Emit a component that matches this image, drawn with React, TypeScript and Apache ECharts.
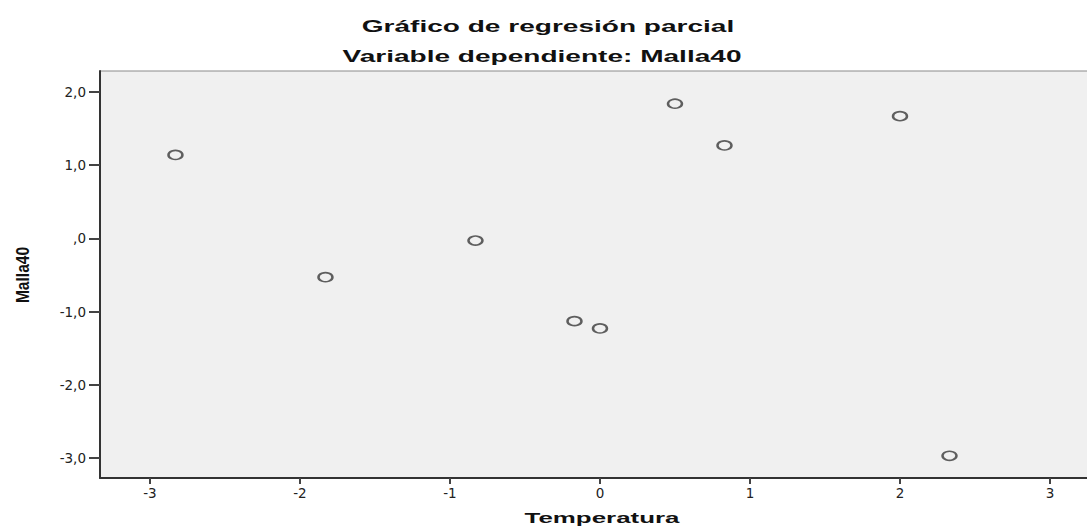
import React, { useEffect, useRef } from "react";
import * as echarts from "echarts";

// Data (partial regression plot)
const temperatura: number[] = [-2.83, -1.83, -0.83, -0.17, 0.0, 0.5, 0.83, 2.0, 2.33];
const malla40: number[] = [1.14, -0.53, -0.03, -1.13, -1.23, 1.84, 1.27, 1.67, -2.97];
const xTicks: number[] = [-3, -2, -1, 0, 1, 2, 3];
const yTicks: number[] = [-3, -2, -1, 0, 1, 2];
const titleLine1 = "Gráfico de regresión parcial";
const titleLine2 = "Variable dependiente: Malla40";
const xName = "Temperatura";
const yName = "Malla40";

const fmtY = (v: number) => {
  if (Math.abs(v) < 1e-9) return ",0";
  return v.toFixed(1).replace(".", ",");
};

export default function App() {
  const ref = useRef<HTMLDivElement>(null);
  useEffect(() => {
    if (!ref.current) return;
    const chart = echarts.init(ref.current, null, { renderer: "svg" });
    const points = temperatura.map((x, i) => [x, malla40[i]]);
    chart.setOption({
      animation: false,
      backgroundColor: "#ffffff",
      grid: {
        left: 100,
        top: 71,
        width: 995,
        bottom: 49,
        containLabel: false,
        outerBoundsMode: "none",
        show: true,
        backgroundColor: "#f0f0f0",
        borderColor: "#8a8a8a",
        borderWidth: 1,
      },
      xAxis: {
        type: "value",
        min: -3.333,
        max: 3.3,
        splitLine: { show: false },
        axisLine: { show: true, onZero: false, lineStyle: { color: "#333", width: 2 } },
        axisTick: {
          show: true,
          customValues: xTicks,
          length: 6,
          lineStyle: { color: "#444", width: 2 },
        },
        axisLabel: {
          customValues: xTicks,
          margin: 8,
          color: "#222",
          fontFamily: "DejaVu Sans",
          fontSize: 13.5,
          formatter: (v: number) => String(v),
        },
      },
      yAxis: {
        type: "value",
        min: -3.273,
        max: 2.287,
        splitLine: { show: false },
        axisLine: { show: true, onZero: false, lineStyle: { color: "#333", width: 2 } },
        axisTick: {
          show: true,
          customValues: yTicks,
          length: 11,
          lineStyle: { color: "#444", width: 2 },
        },
        axisLabel: {
          customValues: yTicks,
          margin: 14,
          color: "#222",
          fontFamily: "DejaVu Sans",
          fontSize: 13.5,
          formatter: fmtY,
        },
      },
      series: [
        {
          type: "scatter",
          data: points,
          symbol: "circle",
          symbolSize: [14, 9],
          itemStyle: { color: "#f0f0f0", borderColor: "#3a3a3a", borderWidth: 2 },
          emphasis: { disabled: true },
        },
      ],
      graphic: [
        {
          type: "text",
          x: 548,
          y: 26,
          scaleX: 1.65,
          style: {
            text: titleLine1,
            fill: "#111",
            fontSize: 17,
            fontWeight: "bold",
            fontFamily: "Liberation Sans, Arial, sans-serif",
            textAlign: "center",
            textVerticalAlign: "middle",
            align: "center",
            verticalAlign: "middle",
          },
        },
        {
          type: "text",
          x: 542,
          y: 56,
          scaleX: 1.65,
          style: {
            text: titleLine2,
            fill: "#111",
            fontSize: 17,
            fontWeight: "bold",
            fontFamily: "Liberation Sans, Arial, sans-serif",
            textAlign: "center",
            textVerticalAlign: "middle",
            align: "center",
            verticalAlign: "middle",
          },
        },
        {
          type: "text",
          x: 602,
          y: 518,
          scaleX: 1.85,
          style: {
            text: xName,
            fill: "#111",
            fontSize: 14,
            fontWeight: "bold",
            fontFamily: "Liberation Sans, Arial, sans-serif",
            textAlign: "center",
            textVerticalAlign: "middle",
            align: "center",
            verticalAlign: "middle",
          },
        },
        {
          type: "text",
          x: 22,
          y: 275,
          rotation: Math.PI / 2,
          scaleX: 0.82,
          style: {
            text: yName,
            fill: "#111",
            fontSize: 19,
            fontWeight: "bold",
            fontFamily: "Liberation Sans, Arial, sans-serif",
            textAlign: "center",
            textVerticalAlign: "middle",
            align: "center",
            verticalAlign: "middle",
          },
        },
      ],
    });
    return () => chart.dispose();
  }, []);
  return (
    <div
      ref={ref}
      style={{ position: "fixed", left: 0, top: 0, width: 1087, height: 527 }}
    />
  );
}
